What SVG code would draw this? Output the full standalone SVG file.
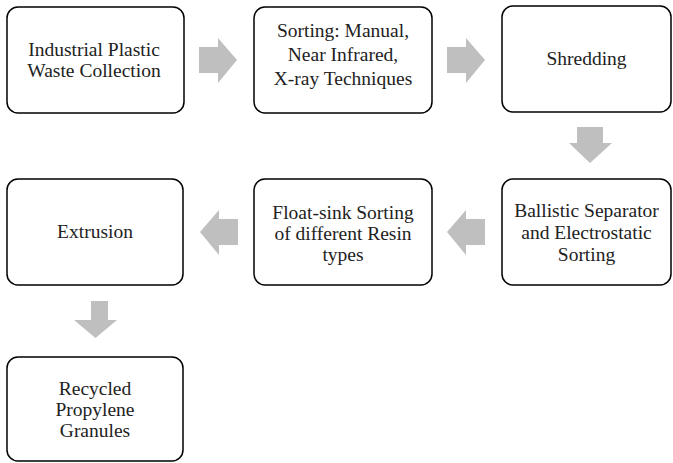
<svg xmlns="http://www.w3.org/2000/svg" width="673" height="463" viewBox="0 0 673 463">
<style>
.box{fill:#fff;stroke:#000;stroke-width:1.5}
.arr{fill:#bfbfbf}
text{font-family:"Liberation Serif","Times New Roman",serif;font-size:19.5px;fill:#222;text-anchor:middle}
</style>
<rect width="673" height="463" fill="#fff"/>
<g id="connectors">
<polygon class="arr" points="199,47 218,47 218,38 237,60 218,83 218,73 199,73"/>
<polygon class="arr" points="447,47 466,47 466,38 485,60 466,83 466,73 447,73"/>
<polygon class="arr" points="577,127 603,127 603,143 612,143 590,163 569,143 577,143"/>
<polygon class="arr" points="485,219 466,219 466,210 447,232 466,255 466,245 485,245"/>
<polygon class="arr" points="238,219 219,219 219,210 200,232 219,255 219,245 238,245"/>
<polygon class="arr" points="91,301 108,301 108,320 117,320 95.5,338 74,320 91,320"/>
</g>
<g id="n1"><rect class="box" x="7" y="7" width="177" height="106" rx="11"/>
<text x="94" y="56">Industrial Plastic</text><text x="94" y="77">Waste Collection</text></g>
<g id="n2"><rect class="box" x="254" y="7" width="178" height="106" rx="11"/>
<text x="343" y="37">Sorting: Manual,</text><text x="343" y="61">Near Infrared,</text><text x="343" y="85">X-ray Techniques</text></g>
<g id="n3"><rect class="box" x="502" y="6" width="169" height="106" rx="11"/>
<text x="586.5" y="65">Shredding</text></g>
<g id="n4"><rect class="box" x="502" y="179" width="169" height="106" rx="11"/>
<text x="586.5" y="217">Ballistic Separator</text><text x="586.5" y="239">and Electrostatic</text><text x="586.5" y="261">Sorting</text></g>
<g id="n5"><rect class="box" x="254" y="179" width="178" height="106" rx="11"/>
<text x="343" y="219">Float-sink Sorting</text><text x="343" y="240">of different Resin</text><text x="343" y="261">types</text></g>
<g id="n6"><rect class="box" x="7" y="179" width="176" height="106" rx="11"/>
<text x="95" y="238">Extrusion</text></g>
<g id="n7"><rect class="box" x="7" y="357" width="176" height="104" rx="11"/>
<text x="95" y="395">Recycled</text><text x="95" y="416">Propylene</text><text x="95" y="437">Granules</text></g>
</svg>
